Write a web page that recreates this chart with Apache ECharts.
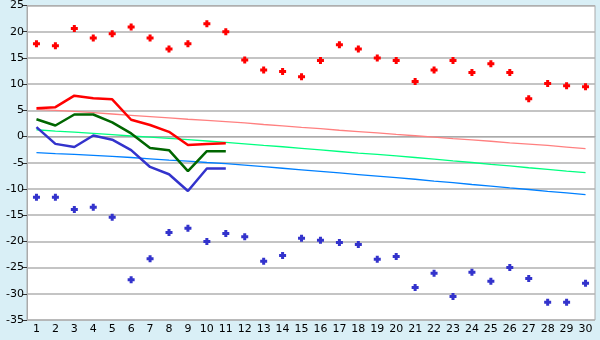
<!DOCTYPE html>
<html>
<head>
<meta charset="utf-8">
<script src="https://cdn.jsdelivr.net/npm/echarts@6/dist/echarts.min.js"></script>
<style>
  html, body { margin: 0; padding: 0; background: #d9eff6; }
  #chart { width: 600px; height: 340px; }
</style>
</head>
<body>
<div id="chart"></div>
<script>
const days = Array.from({ length: 30 }, (_, i) => String(i + 1));

// daily extremes
const maxTemps = [17.7, 17.3, 20.6, 18.8, 19.6, 20.9, 18.8, 16.7, 17.7, 21.5,
	20.0, 14.6, 12.7, 12.4, 11.4, 14.5, 17.5, 16.7, 15.0, 14.5,
	10.5, 12.7, 14.5, 12.2, 13.9, 12.2, 7.2, 10.1, 9.7, 9.5];
const minTemps = [-11.6, -11.6, -13.9, -13.5, -15.4, -27.3, -23.3, -18.3, -17.5, -20.0,
	-18.5, -19.1, -23.8, -22.7, -19.4, -19.8, -20.2, -20.6, -23.4, -22.9,
	-28.8, -26.1, -30.5, -25.9, -27.6, -25.0, -27.1, -31.6, -31.6, -28.0];

// measured lines (first 11 days only)
const redLine = [5.4, 5.6, 7.8, 7.3, 7.1, 3.2, 2.2, 0.9, -1.6, -1.4, -1.3];
const greenLine = [3.3, 2.1, 4.2, 4.2, 2.7, 0.6, -2.2, -2.6, -6.6, -2.8, -2.8];
const blueLine = [1.8, -1.4, -2.0, 0.2, -0.6, -2.6, -5.8, -7.2, -10.4, -6.1, -6.1];

// trend lines
const redTrend = [5.2, 5.0, 4.8, 4.55, 4.3, 4.05, 3.8, 3.55, 3.3, 3.1,
	2.85, 2.6, 2.3, 2.05, 1.75, 1.5, 1.2, 0.95, 0.7, 0.4,
	0.15, -0.1, -0.4, -0.65, -0.9, -1.2, -1.45, -1.7, -2.0, -2.3];
const greenTrend = [1.3, 1.05, 0.85, 0.6, 0.35, 0.1, -0.1, -0.35, -0.6, -0.85,
	-1.1, -1.4, -1.7, -1.95, -2.25, -2.55, -2.85, -3.15, -3.4, -3.7,
	-4.0, -4.3, -4.65, -4.95, -5.3, -5.6, -5.95, -6.25, -6.6, -6.9];
const blueTrend = [-3.05, -3.25, -3.4, -3.6, -3.8, -4.0, -4.25, -4.5, -4.7, -4.95,
	-5.15, -5.45, -5.75, -6.05, -6.35, -6.65, -6.95, -7.25, -7.55, -7.85,
	-8.15, -8.5, -8.8, -9.15, -9.45, -9.8, -10.1, -10.45, -10.75, -11.1];

const chart = echarts.init(document.getElementById("chart"), null, { renderer: "canvas" });

// small chunky plus-shaped marker
const plus = "path://M2,0H5V2H7V5H5V7H2V5H0V2H2Z";

const trend = (data, color) => ({
	type: "line", data, symbol: "none", silent: true,
	lineStyle: { color, width: 1.3 }, z: 2
});
const measured = (data, color, width) => ({
	type: "line", data, symbol: "none", silent: true,
	lineStyle: { color, width }, z: 3
});
const dots = (data, color) => ({
	type: "scatter", data, symbol: plus, symbolSize: 7,
	itemStyle: { color, opacity: 1 }, z: 4
});

chart.setOption({
	backgroundColor: "#d9eff6",
	animation: false,
	grid: {
		left: 27, right: 5, top: 5, bottom: 20,
		show: true, backgroundColor: "#ffffff", borderColor: "#aaaaaa", borderWidth: 1
	},
	xAxis: {
		type: "category",
		data: days,
		boundaryGap: true,
		axisLine: { lineStyle: { color: "#aaaaaa" } },
		axisTick: { alignWithLabel: true, length: 5, lineStyle: { color: "#333" } },
		axisLabel: { color: "#000", fontFamily: "DejaVu Sans", fontSize: 11, margin: 4, interval: 0 },
		splitLine: { show: false }
	},
	yAxis: {
		type: "value",
		min: -35, max: 25, interval: 5,
		axisLine: { show: true, lineStyle: { color: "#aaaaaa" } },
		axisTick: { show: true, length: 5, lineStyle: { color: "#333" } },
		axisLabel: { color: "#000", fontFamily: "DejaVu Sans", fontSize: 11, margin: 3 },
		splitLine: { lineStyle: { color: "#b0b0b0", width: 1.5 } }
	},
	series: [
		trend(redTrend, "#ff8080"),
		trend(greenTrend, "#00ff80"),
		trend(blueTrend, "#0080ff"),
		measured(redLine, "#ff0000", 2.5),
		measured(greenLine, "#006600", 2.5),
		measured(blueLine, "#3333cc", 2.5),
		dots(maxTemps, "#ff0000"),
		dots(minTemps, "#3333cc")
	]
});
</script>
</body>
</html>
